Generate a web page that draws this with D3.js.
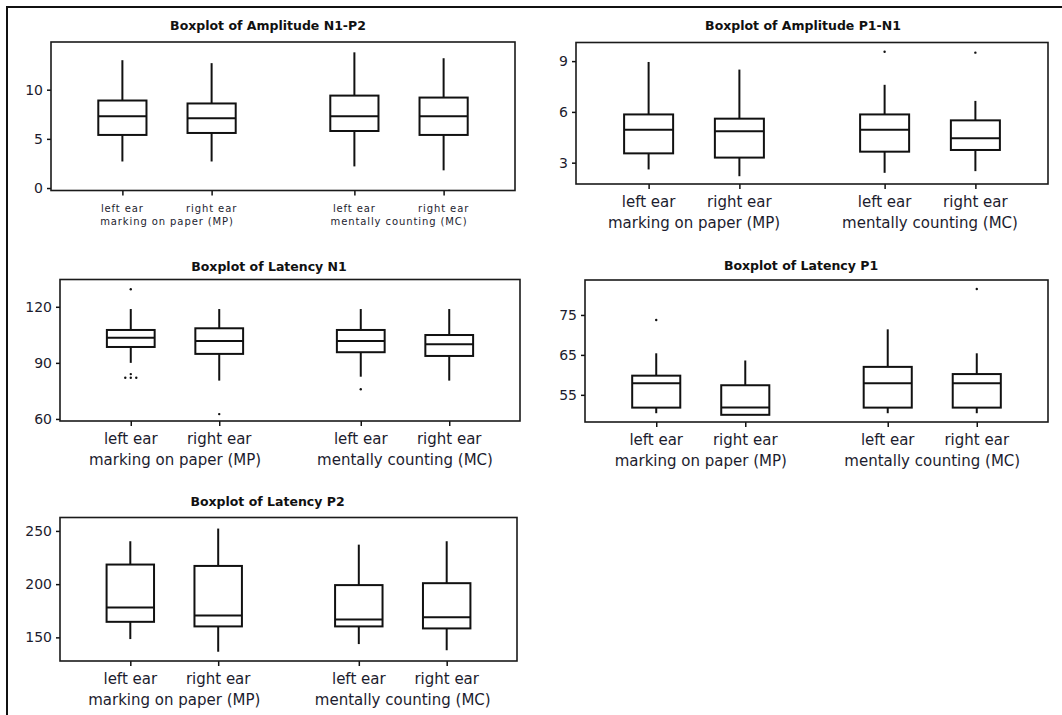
<!DOCTYPE html>
<html>
<head>
<meta charset="utf-8">
<script src="https://cdn.jsdelivr.net/npm/d3@7"></script>
<style>
  html, body { margin: 0; padding: 0; background: #fff; }
  svg { display: block; }
  .tick text { font-family: "DejaVu Sans", Verdana, sans-serif; fill: #1c1c2e; }
</style>
</head>
<body>
<svg id="chart" width="1062" height="715"></svg>
<script>
// Panel titles and category labels
const panelTitles = [
  "Boxplot of Amplitude N1-P2",
  "Boxplot of Amplitude P1-N1",
  "Boxplot of Latency N1",
  "Boxplot of Latency P1",
  "Boxplot of Latency P2"
];
const earLabels = ["left ear", "right ear", "left ear", "right ear"];
const conditionLabels = ["marking on paper (MP)", "mentally counting (MC)"];

// Five-number summaries per box: [lower whisker, Q1, median, Q3, upper whisker]
const ampN1P2 = [[2.7, 5.4, 7.3, 8.9, 13.0], [2.7, 5.6, 7.1, 8.6, 12.7], [2.2, 5.8, 7.3, 9.4, 13.8], [1.8, 5.4, 7.3, 9.2, 13.2]];
const ampP1N1 = [[2.6, 3.55, 4.95, 5.85, 8.95], [2.2, 3.3, 4.85, 5.6, 8.5], [2.4, 3.65, 4.95, 5.85, 7.6], [2.5, 3.75, 4.45, 5.5, 6.65]];
const latN1 = [[90, 98.5, 103.5, 107.6, 118.8], [80.5, 94.8, 101.7, 108.5, 118.8], [82.6, 95.7, 101.7, 107.6, 118.8], [80.5, 93.7, 99.9, 104.9, 118.8]];
const latP1 = [[50.4, 51.8, 57.9, 59.8, 65.4], [50, 50, 51.8, 57.4, 63.6], [50.4, 51.8, 57.9, 62, 71.4], [50.4, 51.8, 57.9, 60.2, 65.4]];
const latP2 = [[148.4, 164.6, 178.1, 218.4, 240.3], [136.5, 160.3, 170.5, 217.1, 252.2], [143.7, 160.3, 166.9, 199.1, 237.1], [137.9, 158.4, 168.8, 200.9, 240.3]];

// Outlying observations per box
const ampN1P2Outliers = [[], [], [], []];
const ampP1N1Outliers = [[], [], [9.55], [9.5]];
const latN1Outliers = [[129.4, 82, 84, 82, 82], [62.6], [75.9], []];
const latP1Outliers = [[73.75], [], [], [81.5]];
const latP2Outliers = [[], [], [], []];

// Y-axis ticks and ranges
const ampN1P2Ticks = [0, 5, 10];
const ampP1N1Ticks = [3, 6, 9];
const latN1Ticks = [60, 90, 120];
const latP1Ticks = [55, 65, 75];
const latP2Ticks = [150, 200, 250];
const ampN1P2Range = [-0.25, 14.85];
const ampP1N1Range = [1.74, 10.1];
const latN1Range = [58.9, 134.6];
const latP1Range = [48.2, 83.75];
const latP2Range = [127.8, 262.6];

const FONT = '"DejaVu Sans", Verdana, sans-serif';
const svg = d3.select("#chart");

svg.append("rect").attr("width", 1062).attr("height", 715).attr("fill", "#fff");
// outer frame (left and top edges)
svg.append("path")
  .attr("d", "M7,715V7H1062")
  .attr("fill", "none").attr("stroke", "#111").attr("stroke-width", 2);

// plot frames and title centres
const panels = [
  { title: panelTitles[0], stats: ampN1P2, outliers: ampN1P2Outliers, ticks: ampN1P2Ticks, range: ampN1P2Range,
    x0: 51, x1: 515, y0: 42, y1: 190.5, titleX: 268, titleY: 25, small: true },
  { title: panelTitles[1], stats: ampP1N1, outliers: ampP1N1Outliers, ticks: ampP1N1Ticks, range: ampP1N1Range,
    x0: 576, x1: 1048, y0: 42.5, y1: 184, titleX: 803, titleY: 25 },
  { title: panelTitles[2], stats: latN1, outliers: latN1Outliers, ticks: latN1Ticks, range: latN1Range,
    x0: 60, x1: 520, y0: 279.5, y1: 421, titleX: 269, titleY: 266 },
  { title: panelTitles[3], stats: latP1, outliers: latP1Outliers, ticks: latP1Ticks, range: latP1Range,
    x0: 585, x1: 1048, y0: 280, y1: 422, titleX: 801, titleY: 265 },
  { title: panelTitles[4], stats: latP2, outliers: latP2Outliers, ticks: latP2Ticks, range: latP2Range,
    x0: 60, x1: 517, y0: 517.5, y1: 661, titleX: 267.5, titleY: 501 }
];

// slot of each box along the x axis: two ears per condition, gap between conditions
const slotOf = i => Math.floor(i / 2) * 2.6 + (i % 2) + 1;
const BOX_HALF = 0.27;

panels.forEach(p => {
  const g = svg.append("g");
  const x = d3.scaleLinear().domain([0.2, 5.4]).range([p.x0, p.x1]);
  const y = d3.scaleLinear().domain(p.range).range([p.y1, p.y0]);

  g.append("text")
    .attr("x", p.titleX).attr("y", p.titleY)
    .attr("text-anchor", "middle").attr("dominant-baseline", "central")
    .attr("font-family", FONT).attr("font-weight", "bold").attr("font-size", 12.5)
    .attr("fill", "#111")
    .text(p.title);

  // y axis
  const ya = g.append("g").attr("transform", `translate(${p.x0},0)`)
    .call(d3.axisLeft(y).tickValues(p.ticks).tickSize(4).tickPadding(4));
  ya.select(".domain").remove();
  ya.selectAll(".tick line").attr("stroke", "#111").attr("stroke-width", 1.5);
  ya.selectAll(".tick text").attr("font-size", 14);

  // x axis ticks
  const xa = g.append("g").attr("transform", `translate(0,${p.y1})`)
    .call(d3.axisBottom(x).tickValues(p.stats.map((d, i) => slotOf(i))).tickFormat("").tickSize(5));
  xa.select(".domain").remove();
  xa.selectAll(".tick line").attr("stroke", "#111").attr("stroke-width", 1.5);

  // frame
  g.append("rect")
    .attr("x", p.x0).attr("y", p.y0).attr("width", p.x1 - p.x0).attr("height", p.y1 - p.y0)
    .attr("fill", "none").attr("stroke", "#1a1a1a").attr("stroke-width", 1.6);

  // category labels
  const labFont = p.small ? 10 : 15;
  const line1 = p.small ? 17.6 : 17.5;
  const line2 = p.small ? 31 : 39;
  earLabels.forEach((lab, i) => {
    g.append("text")
      .attr("x", x(slotOf(i))).attr("y", p.y1 + line1)
      .attr("text-anchor", "middle").attr("dominant-baseline", "central")
      .attr("font-family", FONT).attr("font-size", labFont)
      .attr("letter-spacing", p.small ? 0.9 : 0)
      .attr("fill", "#1c1c2e")
      .text(lab);
  });
  conditionLabels.forEach((lab, c) => {
    g.append("text")
      .attr("x", (x(slotOf(c * 2)) + x(slotOf(c * 2 + 1))) / 2).attr("y", p.y1 + line2)
      .attr("text-anchor", "middle").attr("dominant-baseline", "central")
      .attr("font-family", FONT).attr("font-size", labFont)
      .attr("letter-spacing", p.small ? 0.9 : 0)
      .attr("fill", "#1c1c2e")
      .text(lab);
  });

  // boxes
  const boxes = g.selectAll("g.box").data(p.stats).join("g").attr("class", "box");
  boxes.each(function (s, i) {
    const b = d3.select(this);
    const cx = x(slotOf(i));
    const half = x(slotOf(i) + BOX_HALF) - cx;
    const [lo, q1, med, q3, hi] = s;
    const line = (x1, y1, x2, y2) => b.append("line")
      .attr("x1", x1).attr("y1", y1).attr("x2", x2).attr("y2", y2)
      .attr("stroke", "#111").attr("stroke-width", 2);
    if (hi > q3) line(cx, y(q3), cx, y(hi));
    if (lo < q1) line(cx, y(q1), cx, y(lo));
    b.append("rect")
      .attr("x", cx - half).attr("y", y(q3))
      .attr("width", 2 * half).attr("height", y(q1) - y(q3))
      .attr("fill", "none").attr("stroke", "#111").attr("stroke-width", 2);
    line(cx - half, y(med), cx + half, y(med));

    // outliers: repeated values are spread sideways
    const counts = d3.rollup(p.outliers[i], v => v.length, v => v);
    const seen = new Map();
    p.outliers[i].forEach(v => {
      const n = counts.get(v);
      const k = seen.get(v) || 0;
      seen.set(v, k + 1);
      b.append("circle")
        .attr("cx", cx + (k - (n - 1) / 2) * 5.5)
        .attr("cy", y(v))
        .attr("r", 1.2)
        .attr("fill", "#111");
    });
  });
});
</script>
</body>
</html>
